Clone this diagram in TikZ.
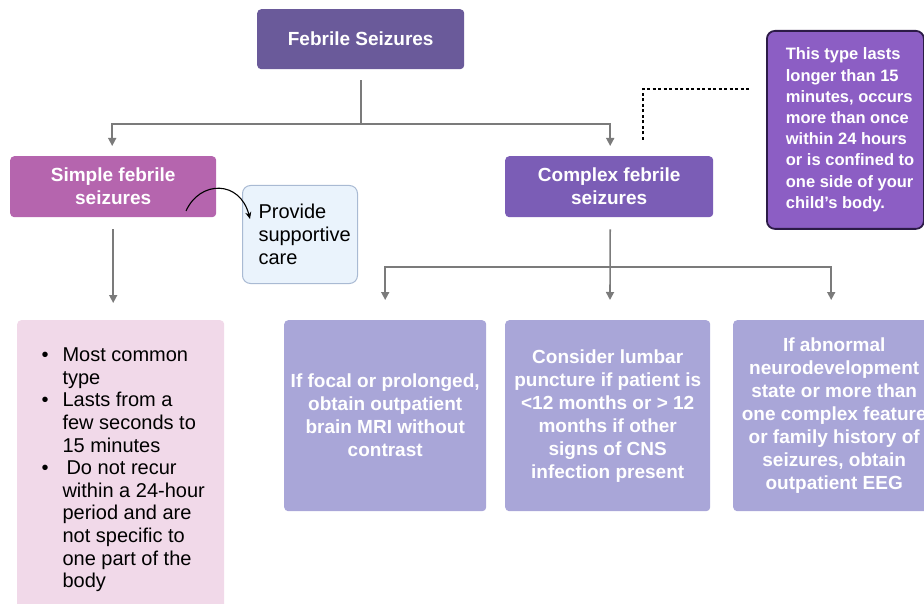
\documentclass[tikz,border=0pt]{standalone}
\usepackage{fontspec}
\setmainfont{Liberation Sans}
\usetikzlibrary{arrows.meta,positioning}
\definecolor{titlepurple}{HTML}{6A5A9A}
\definecolor{simplepink}{HTML}{B565AE}
\definecolor{complexpurple}{HTML}{7B5DB6}
\definecolor{notepurple}{HTML}{8C5EC4}
\definecolor{noteborder}{HTML}{2C1B47}
\definecolor{steplilac}{HTML}{A9A6D8}
\definecolor{listpink}{HTML}{F1D9E9}
\definecolor{carefill}{HTML}{EAF3FC}
\definecolor{careborder}{HTML}{A9BAD3}
\definecolor{linegray}{HTML}{7B7B7B}
\tikzset{
  box/.style={rounded corners=4pt, anchor=north west, inner sep=0pt,
    align=center, text=white, font=\bfseries\fontsize{19}{23}\selectfont},
  stepbox/.style={box, fill=steplilac, minimum width=#1, minimum height=191pt},
  conn/.style={draw=linegray, line width=1.6pt,
    -{Triangle[length=8pt,width=8pt]}},
  plain/.style={draw=linegray, line width=1.6pt}
}

\begin{document}
\begin{tikzpicture}[x=1pt,y=-1pt]
    \useasboundingbox (0,0) rectangle (924,604);
    \node[box, fill=titlepurple, minimum width=207pt, minimum height=60pt]
        (title) at (257,9) {Febrile Seizures};
    \node[box, fill=simplepink, minimum width=206pt, minimum height=61pt]
        (simple) at (10,156) {Simple febrile\\seizures};
    \node[box, fill=complexpurple, minimum width=208pt, minimum height=61pt]
        (complex) at (505,156) {Complex febrile\\seizures};
    \node[box, fill=notepurple, draw=noteborder, line width=1.8pt,
        rounded corners=8pt, minimum width=157pt, minimum height=198pt,
        align=left, font=\bfseries\fontsize{16.5}{21.2}\selectfont]
        (note) at (766,30) {\hspace*{19pt}\parbox{138pt}{This type lasts\\longer than 15\\minutes, occurs\\more than once\\within 24 hours\\or is confined to\\one side of your\\child's body.}};
    \node[box, fill=carefill, draw=careborder, line width=1pt,
        rounded corners=8pt, minimum width=115pt, minimum height=98pt,
        text=black, align=left, font=\fontsize{20}{23}\selectfont]
        (care) at (242,185) {\hspace*{15pt}\parbox{98pt}{Provide\\supportive\\care}};
    \node[box, fill=listpink, minimum width=207pt, minimum height=300pt,
        text=black, align=left, font=\fontsize{20}{22.6}\selectfont]
        (list) at (17,320) {\hspace*{17pt}\begin{tabular}{@{}l@{\hspace{14pt}}l@{}}
            \textbullet & Most common\\
                        & type\\
            \textbullet & Lasts from a\\
                        & few seconds to\\
                        & 15 minutes\\
            \textbullet & \hspace{4pt}Do not recur\\
                        & within a 24-hour\\
                        & period and are\\
                        & not specific to\\
                        & one part of the\\
                        & body
        \end{tabular}\hspace*{12pt}};
    \node[stepbox=202pt] (mri) at (284,320)
        {If focal or prolonged,\\obtain outpatient\\brain MRI without\\contrast};
    \node[stepbox=205pt] (lumbar) at (505,320)
        {Consider lumbar\\puncture if patient is\\<12 months or > 12\\months if other\\signs of CNS\\infection present};
    \node[stepbox=202pt] (eeg) at (733,320)
        {If abnormal\\neurodevelopment\\state or more than\\one complex feature\\or family history of\\seizures, obtain\\outpatient EEG};
    \coordinate (split) at (610,267);
    \coordinate (curvstart) at (186,211);
    \coordinate (curvend) at (250,219);
    \coordinate (dotstart) at (643,140);
    \coordinate (dotend) at (750,89);
    \draw[plain] ([yshift=-11pt]title.south) -- ([yshift=-11pt]title.south |- 0,113)
        coordinate (fork);
    \draw[conn] (fork) -| ([xshift=-1pt,yshift=10pt]simple.north);
    \draw[conn] (fork) -| ([xshift=1pt,yshift=10pt]complex.north);
    \draw[conn] ([yshift=-12pt]simple.south) -- ([yshift=17pt]simple.south |- list.north);
    \draw[conn] ([xshift=1pt,yshift=-12pt]complex.south) -- ([yshift=20pt]split |- lumbar.north);
    \draw[conn] (split) -| ([yshift=20pt]mri.north);
    \draw[conn] (split) -| ([xshift=-3pt,yshift=20pt]eeg.north);
    \draw[line width=1.1pt, -{Stealth[length=7pt,width=6pt]}]
        (curvstart) .. controls (200,180) and (240,180) .. (curvend);
    \draw[line width=1.8pt, dash pattern=on 3pt off 2.5pt]
        (dotstart) |- (dotend);
\end{tikzpicture}
\end{document}
